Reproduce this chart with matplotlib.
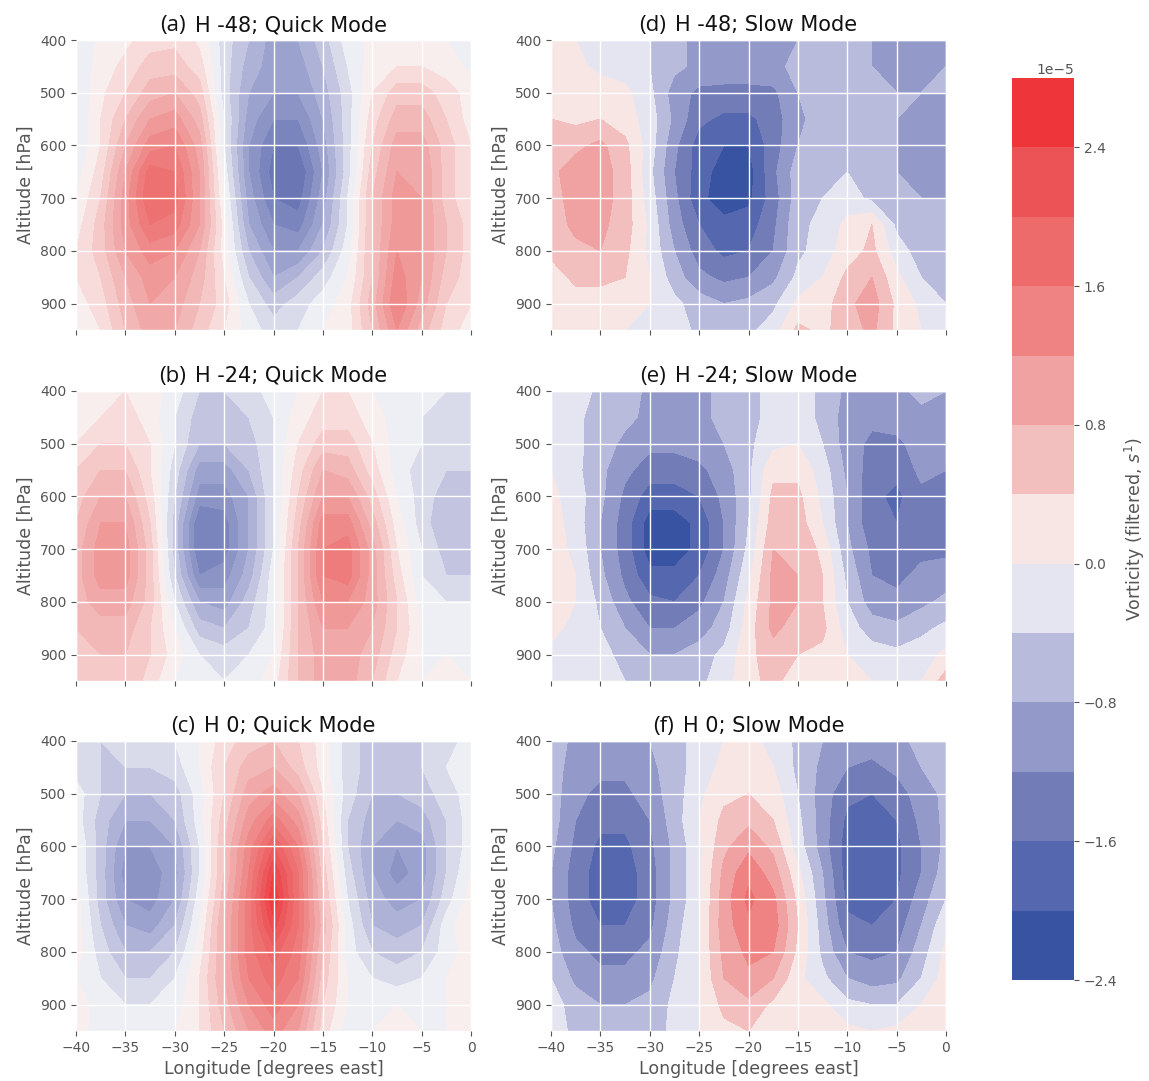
import numpy as np
import matplotlib
matplotlib.use("Agg")
import matplotlib.pyplot as plt
from matplotlib.colors import LinearSegmentedColormap, Normalize

plt.style.use("ggplot")
plt.rcParams["font.family"] = ["DejaVu Sans"]

# grid of the cross sections
lon = [-40, -37.5, -35, -32.5, -30, -27.5, -25, -22.5, -20, -17.5, -15, -12.5, -10, -7.5, -5, -2.5, 0]
pres = [400, 450, 500, 550, 600, 650, 700, 750, 800, 850, 900, 950]

# vorticity in 1e-5 s^-1, rows = pres, cols = lon
quick_m48 = [
    [-0.2, 0.05, 0.15, 0.3, 0.35, 0.15, -0.3, -0.6, -0.9, -0.8, -0.5, -0.1, 0.05, 0.1, 0.1, 0.0, -0.1],
    [-0.2, 0.1, 0.25, 0.5, 0.5, 0.3, -0.3, -0.7, -0.9, -0.9, -0.6, -0.2, 0.1, 0.2, 0.2, 0.1, -0.05],
    [-0.2, 0.15, 0.4, 0.7, 0.8, 0.5, -0.3, -0.8, -1.0, -1.0, -0.7, -0.3, 0.2, 0.5, 0.5, 0.3, 0.1],
    [-0.2, 0.2, 0.6, 1.0, 1.1, 0.7, -0.2, -0.9, -1.2, -1.2, -0.8, -0.3, 0.3, 0.7, 0.7, 0.4, 0.1],
    [-0.2, 0.2, 0.8, 1.3, 1.4, 0.9, -0.2, -1.0, -1.4, -1.4, -0.9, -0.3, 0.4, 0.9, 0.9, 0.5, 0.2],
    [-0.1, 0.3, 1.0, 1.7, 1.6, 1.0, -0.1, -1.0, -1.5, -1.6, -1.0, -0.3, 0.5, 1.0, 1.0, 0.5, 0.2],
    [0.0, 0.4, 1.1, 1.8, 1.7, 1.0, 0.0, -0.9, -1.4, -1.5, -0.9, -0.2, 0.6, 1.1, 1.0, 0.5, 0.2],
    [0.1, 0.5, 1.1, 1.6, 1.5, 1.0, 0.1, -0.8, -1.2, -1.3, -0.8, -0.2, 0.6, 1.1, 1.0, 0.6, 0.3],
    [0.2, 0.5, 1.0, 1.3, 1.2, 0.8, 0.1, -0.6, -1.0, -1.0, -0.6, -0.1, 0.6, 1.2, 1.0, 0.6, 0.3],
    [0.2, 0.4, 0.8, 1.1, 1.0, 0.7, 0.2, -0.4, -0.8, -0.6, -0.3, 0.0, 0.6, 1.3, 1.0, 0.5, 0.3],
    [0.1, 0.3, 0.7, 1.0, 0.9, 0.6, 0.3, -0.2, -0.5, -0.3, -0.1, 0.1, 0.7, 1.4, 0.9, 0.4, 0.2],
    [0.0, 0.2, 0.6, 0.9, 0.8, 0.5, 0.2, -0.1, -0.3, -0.2, 0.0, 0.1, 0.6, 1.2, 0.7, 0.3, 0.1],
]
quick_m24 = [
    [0.05, 0.15, 0.2, 0.1, -0.1, -0.4, -0.4, -0.3, -0.1, 0.0, 0.2, 0.2, 0.0, -0.1, -0.1, -0.2, -0.2],
    [0.1, 0.2, 0.3, 0.1, -0.2, -0.5, -0.5, -0.4, -0.2, 0.1, 0.3, 0.3, 0.1, -0.1, -0.2, -0.3, -0.2],
    [0.2, 0.4, 0.4, 0.2, -0.2, -0.6, -0.6, -0.5, -0.2, 0.2, 0.5, 0.5, 0.2, -0.1, -0.2, -0.3, -0.3],
    [0.4, 0.6, 0.6, 0.2, -0.3, -0.9, -0.9, -0.6, -0.2, 0.3, 0.8, 0.7, 0.3, -0.1, -0.3, -0.4, -0.4],
    [0.5, 0.8, 0.8, 0.3, -0.4, -1.1, -1.1, -0.8, -0.2, 0.4, 1.0, 1.0, 0.5, 0.0, -0.3, -0.5, -0.5],
    [0.6, 1.0, 1.0, 0.4, -0.5, -1.4, -1.3, -0.8, -0.2, 0.5, 1.3, 1.3, 0.7, 0.1, -0.3, -0.6, -0.6],
    [0.7, 1.1, 1.1, 0.5, -0.5, -1.4, -1.3, -0.8, -0.2, 0.6, 1.4, 1.5, 0.9, 0.2, -0.2, -0.5, -0.5],
    [0.7, 1.1, 1.1, 0.5, -0.4, -1.2, -1.1, -0.7, -0.1, 0.6, 1.4, 1.5, 0.9, 0.3, -0.2, -0.4, -0.4],
    [0.7, 0.9, 0.9, 0.5, -0.2, -0.8, -0.9, -0.5, -0.1, 0.6, 1.2, 1.2, 0.9, 0.4, -0.1, -0.2, -0.2],
    [0.6, 0.7, 0.7, 0.4, 0.0, -0.5, -0.6, -0.4, -0.1, 0.6, 1.0, 1.0, 0.8, 0.4, 0.0, -0.1, -0.1],
    [0.6, 0.6, 0.6, 0.4, 0.1, -0.2, -0.3, -0.2, 0.0, 0.6, 0.9, 0.9, 0.7, 0.3, 0.0, 0.0, -0.1],
    [0.5, 0.6, 0.6, 0.3, 0.0, -0.1, -0.2, -0.1, 0.1, 0.6, 0.9, 0.9, 0.6, 0.2, 0.0, 0.1, 0.0],
]
quick_0 = [
    [-0.3, -0.4, -0.3, -0.3, -0.2, 0.0, 0.3, 0.5, 0.6, 0.4, 0.1, -0.3, -0.5, -0.5, -0.4, -0.3, -0.1],
    [-0.3, -0.4, -0.4, -0.4, -0.3, 0.0, 0.4, 0.7, 0.8, 0.5, 0.1, -0.3, -0.5, -0.5, -0.4, -0.2, -0.1],
    [-0.1, -0.4, -0.6, -0.6, -0.5, -0.1, 0.4, 0.9, 1.1, 0.8, 0.2, -0.3, -0.6, -0.6, -0.5, -0.3, -0.1],
    [-0.1, -0.5, -0.8, -0.8, -0.6, -0.1, 0.5, 1.1, 1.5, 1.1, 0.3, -0.4, -0.7, -0.8, -0.7, -0.4, -0.1],
    [0.0, -0.5, -1.0, -1.0, -0.8, -0.2, 0.6, 1.3, 2.0, 1.4, 0.4, -0.4, -0.8, -1.0, -0.9, -0.4, -0.1],
    [0.0, -0.5, -1.1, -1.1, -0.9, -0.2, 0.6, 1.4, 2.4, 1.6, 0.5, -0.3, -0.8, -1.1, -0.9, -0.4, 0.0],
    [0.1, -0.5, -1.0, -1.1, -0.8, -0.1, 0.7, 1.5, 2.6, 1.6, 0.6, -0.2, -0.7, -0.9, -0.8, -0.3, 0.1],
    [0.1, -0.4, -0.8, -0.9, -0.6, 0.0, 0.8, 1.5, 2.3, 1.6, 0.7, -0.1, -0.6, -0.7, -0.6, -0.1, 0.2],
    [0.1, -0.3, -0.6, -0.6, -0.4, 0.1, 0.8, 1.5, 1.9, 1.5, 0.6, -0.1, -0.4, -0.5, -0.4, -0.1, 0.1],
    [0.0, -0.2, -0.4, -0.4, -0.2, 0.2, 0.8, 1.4, 1.7, 1.4, 0.5, 0.0, -0.2, -0.3, -0.2, 0.0, 0.1],
    [0.1, -0.1, -0.2, -0.2, -0.1, 0.2, 0.7, 1.2, 1.5, 1.2, 0.4, 0.0, -0.1, 0.0, -0.1, 0.0, 0.1],
    [0.1, -0.1, -0.1, -0.1, 0.0, 0.2, 0.6, 1.0, 1.3, 1.0, 0.3, -0.1, 0.0, 0.1, 0.0, 0.0, 0.2],
]
slow_m48 = [
    [0.2, 0.0, -0.1, -0.2, -0.4, -0.7, -0.9, -1.0, -1.0, -1.0, -0.8, -0.6, -0.6, -0.8, -0.9, -0.9, -0.9],
    [0.2, 0.1, -0.1, -0.2, -0.4, -0.7, -0.9, -1.0, -1.0, -0.9, -0.7, -0.6, -0.6, -0.8, -0.9, -0.9, -0.8],
    [0.2, 0.2, 0.2, 0.1, -0.3, -1.0, -1.3, -1.3, -1.3, -1.3, -0.8, -0.6, -0.6, -0.6, -0.8, -0.8, -0.8],
    [0.4, 0.3, 0.4, 0.2, -0.2, -0.9, -1.5, -1.7, -1.7, -1.4, -0.9, -0.6, -0.6, -0.7, -0.8, -0.9, -0.9],
    [0.6, 0.7, 0.9, 0.5, -0.2, -1.1, -1.8, -2.0, -2.0, -1.4, -0.8, -0.6, -0.5, -0.7, -0.8, -0.9, -0.9],
    [0.7, 1.0, 1.0, 0.6, -0.3, -1.2, -1.8, -2.2, -2.2, -1.3, -0.6, -0.5, -0.4, -0.6, -0.8, -0.9, -0.9],
    [0.6, 1.0, 1.0, 0.6, -0.2, -1.1, -1.9, -2.2, -2.1, -1.4, -0.6, -0.4, -0.2, -0.5, -0.8, -0.8, -0.8],
    [0.6, 0.9, 0.9, 0.6, -0.1, -1.0, -1.6, -1.9, -1.8, -1.3, -0.5, -0.3, 0.1, 0.4, -0.5, -0.7, -0.7],
    [0.5, 0.7, 0.8, 0.5, -0.1, -0.8, -1.4, -1.7, -1.6, -1.2, -0.5, -0.2, 0.2, 0.5, -0.2, -0.6, -0.6],
    [0.2, 0.5, 0.5, 0.4, 0.0, -0.6, -1.1, -1.3, -1.2, -0.9, -0.3, 0.0, 0.5, 0.8, 0.1, -0.4, -0.5],
    [0.1, 0.2, 0.2, 0.1, 0.0, -0.3, -0.6, -0.8, -0.7, -0.5, 0.1, 0.2, 0.7, 1.0, 0.3, -0.1, -0.4],
    [0.0, 0.1, 0.1, 0.0, -0.1, -0.2, -0.5, -0.6, -0.5, -0.2, 0.5, 0.3, 0.6, 0.9, 0.3, 0.0, -0.2],
]
slow_m24 = [
    [-0.1, -0.2, -0.5, -0.6, -0.9, -1.0, -0.9, -0.7, -0.5, -0.3, -0.2, -0.5, -0.9, -1.0, -0.9, -0.7, -0.8],
    [-0.1, -0.3, -0.6, -0.7, -0.9, -1.0, -0.9, -0.7, -0.5, -0.3, -0.2, -0.5, -1.0, -1.1, -1.0, -0.9, -0.9],
    [-0.1, -0.3, -0.6, -0.9, -1.1, -1.1, -1.0, -0.8, -0.5, -0.1, 0.0, -0.4, -1.0, -1.3, -1.3, -1.0, -1.0],
    [0.0, -0.3, -0.7, -1.1, -1.4, -1.4, -1.3, -1.0, -0.5, 0.3, 0.3, -0.2, -0.9, -1.4, -1.5, -1.1, -1.2],
    [0.1, -0.2, -0.7, -1.3, -1.8, -1.8, -1.6, -1.1, -0.5, 0.5, 0.5, -0.1, -0.8, -1.5, -1.7, -1.3, -1.3],
    [0.2, -0.2, -0.8, -1.4, -2.2, -2.2, -1.9, -1.2, -0.4, 0.6, 0.6, 0.0, -0.8, -1.5, -1.6, -1.3, -1.4],
    [0.2, -0.1, -0.8, -1.4, -2.2, -2.2, -1.9, -1.2, -0.3, 0.8, 0.7, 0.3, -0.7, -1.3, -1.4, -1.3, -1.3],
    [0.2, 0.0, -0.7, -1.3, -1.9, -1.9, -1.6, -1.0, -0.1, 0.9, 0.8, 0.4, -0.5, -1.2, -1.3, -1.1, -1.0],
    [0.2, 0.0, -0.5, -1.1, -1.5, -1.6, -1.3, -0.8, 0.1, 0.9, 0.8, 0.4, -0.4, -1.0, -1.1, -0.9, -0.7],
    [0.1, -0.1, -0.4, -0.8, -1.2, -1.2, -1.0, -0.6, 0.2, 0.9, 0.6, 0.5, -0.2, -0.6, -0.7, -0.5, -0.3],
    [-0.1, 0.0, -0.3, -0.5, -0.8, -0.8, -0.6, -0.3, 0.3, 0.6, 0.4, 0.3, 0.0, -0.2, -0.3, -0.2, 0.1],
    [-0.2, -0.1, -0.2, -0.4, -0.6, -0.6, -0.5, -0.2, 0.3, 0.5, 0.2, 0.3, 0.1, 0.0, -0.1, 0.0, 0.6],
]
slow_0 = [
    [-0.6, -0.9, -1.0, -1.0, -0.8, -0.6, -0.2, 0.0, 0.1, -0.1, -0.5, -0.8, -1.0, -1.0, -0.9, -0.7, -0.6],
    [-0.6, -1.0, -1.1, -1.1, -0.9, -0.6, -0.2, 0.1, 0.2, 0.0, -0.5, -0.9, -1.2, -1.3, -1.1, -0.8, -0.6],
    [-0.6, -1.1, -1.3, -1.3, -1.0, -0.6, -0.1, 0.3, 0.4, 0.2, -0.4, -1.0, -1.5, -1.6, -1.4, -1.0, -0.7],
    [-0.6, -1.2, -1.5, -1.5, -1.2, -0.6, 0.0, 0.5, 0.7, 0.4, -0.3, -1.0, -1.7, -1.8, -1.6, -1.1, -0.7],
    [-0.7, -1.3, -1.7, -1.7, -1.3, -0.7, -0.1, 0.7, 1.1, 0.7, -0.2, -1.0, -1.8, -1.8, -1.7, -1.2, -0.7],
    [-0.8, -1.4, -1.8, -1.8, -1.4, -0.7, -0.1, 0.9, 1.5, 1.0, 0.1, -0.8, -1.8, -1.8, -1.7, -1.2, -0.6],
    [-0.8, -1.4, -1.8, -1.8, -1.4, -0.7, -0.1, 1.0, 1.7, 1.3, 0.3, -0.7, -1.7, -1.8, -1.6, -1.0, -0.4],
    [-0.7, -1.3, -1.6, -1.6, -1.3, -0.6, 0.0, 1.0, 1.5, 1.4, 0.4, -0.6, -1.5, -1.6, -1.4, -0.8, -0.1],
    [-0.6, -1.1, -1.3, -1.3, -1.1, -0.5, 0.0, 0.9, 1.3, 1.2, 0.3, -0.5, -1.2, -1.3, -1.2, -0.6, 0.1],
    [-0.4, -0.9, -1.1, -1.1, -0.9, -0.4, 0.0, 0.8, 1.1, 0.8, 0.1, -0.3, -0.8, -1.0, -0.9, -0.4, 0.2],
    [-0.2, -0.6, -0.8, -0.8, -0.7, -0.3, 0.0, 0.5, 0.7, 0.3, 0.1, 0.1, -0.3, -0.4, -0.4, 0.0, 0.2],
    [-0.2, -0.5, -0.6, -0.6, -0.6, -0.3, 0.0, 0.3, 0.4, 0.2, 0.1, 0.2, 0.1, 0.0, 0.1, 0.1, 0.1],
]

panels = [
    ("(a)", "H -48; Quick Mode", quick_m48, 0.2),
    ("(b)", "H -24; Quick Mode", quick_m24, 0.2),
    ("(c)", "H 0; Quick Mode", quick_0, 0.2),
    ("(d)", "H -48; Slow Mode", slow_m48, 0.4),
    ("(e)", "H -24; Slow Mode", slow_m24, 0.4),
    ("(f)", "H 0; Slow Mode", slow_0, 0.4),
]

# blue - white - red, anchored at the slow-mode band centres
anchor_v = [-2.4, -2.2, -1.8, -1.4, -1.0, -0.6, -0.2, 0.0, 0.2, 0.6, 1.0, 1.4, 1.8, 2.2, 2.6, 2.8]
anchor_c = ["#3953a3", "#3953a3", "#5667ae", "#727db8", "#949bca", "#b8bbdb", "#e4e5f0", "#f8f8fa",
            "#f8e5e4", "#f2bfbe", "#f0a1a1", "#ef8383", "#ee6b6b", "#ec5457", "#ee3539", "#ee3539"]
vmin, vmax = -2.4, 2.8
cmap = LinearSegmentedColormap.from_list(
    "vort", [((v - vmin) / (vmax - vmin), c) for v, c in zip(anchor_v, anchor_c)])
norm = Normalize(vmin * 1e-5, vmax * 1e-5)

W, H = 1149, 1081
fig = plt.figure(figsize=(W / 100, H / 100), dpi=100)
lefts = [76 / W, 551 / W]
bottoms = [1 - 330 / H, 1 - 681 / H, 1 - 1031 / H]
aw, ah = 395 / W, 290 / H

titles = []
LON, PRES = np.meshgrid(lon, pres)
cs_for_bar = None
for i, (tag, name, field, step) in enumerate(panels):
    col, row = i // 3, i % 3
    ax = fig.add_axes([lefts[col], bottoms[row], aw, ah])
    levels = np.arange(vmin, vmax + step / 2, step) * 1e-5
    cs = ax.contourf(LON, PRES, np.array(field) * 1e-5, levels=levels, cmap=cmap, norm=norm)
    if step == 0.4:
        cs_for_bar = cs
    ax.set_axisbelow(False)
    ax.grid(True, color="white", linewidth=1)
    ax.set_xlim(-40, 0)
    ax.set_ylim(950, 400)
    ax.set_xticks(np.arange(-40, 1, 5))
    ax.set_yticks(np.arange(400, 901, 100))
    ax.tick_params(labelsize=10, colors="#555555")
    ax.set_ylabel("Altitude [hPa]", fontsize=12.5, color="#555555")
    if row == 2:
        ax.set_xlabel("Longitude [degrees east]", fontsize=12.5, color="#555555")
    else:
        ax.tick_params(labelbottom=False)
    # panel letter in a different face, rest in the default one
    ty = 1 + 9 / (ah * H)
    t1 = ax.text(0.5, ty, tag, transform=ax.transAxes, family="Open Sans",
                 fontsize=16, color="#111111", va="baseline")
    t2 = ax.text(0.5, ty, name, transform=ax.transAxes,
                 fontsize=15, color="#111111", va="baseline")
    titles.append((ax, t1, t2))

# centre the two-part titles over their axes
renderer = fig.canvas.get_renderer()
gap = 9
for ax, t1, t2 in titles:
    w1 = t1.get_window_extent(renderer).width
    w2 = t2.get_window_extent(renderer).width
    axw = ax.bbox.width
    x0 = 0.5 - (w1 + gap + w2) / 2 / axw
    t1.set_x(x0)
    t2.set_x(x0 + (w1 + gap) / axw)

cax = fig.add_axes([1012 / W, 1 - 980 / H, 62 / W, 902 / H])
cbar = fig.colorbar(cs_for_bar, cax=cax)
cbar.outline.set_visible(False)
cbar.ax.tick_params(labelsize=10, colors="#555555")
cbar.ax.yaxis.get_offset_text().set_fontsize(10)
cbar.ax.yaxis.get_offset_text().set_color("#555555")
cbar.set_label("Vorticity (filtered, $s^1$)", fontsize=12.5, color="#555555")

fig.savefig("out.png", dpi=100)
